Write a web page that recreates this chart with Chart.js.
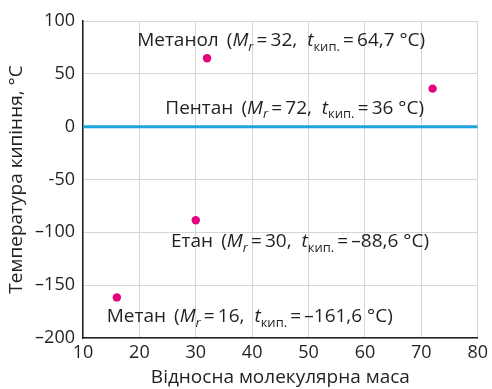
<!DOCTYPE html>
<html>
<head>
<meta charset="utf-8">
<script src="https://cdn.jsdelivr.net/npm/chart.js@4/dist/chart.umd.min.js"></script>
<style>
  html, body { margin: 0; padding: 0; background: #fff; }
  #wrap { width: 492px; height: 389px; }
</style>
</head>
<body>
<div id="wrap"><canvas id="c" width="492" height="389"></canvas></div>
<script>
// Substances: relative molecular mass and boiling point
const substances = ['Метанол', 'Пентан', 'Етан', 'Метан'];
const molarMass = [32, 72, 30, 16];
const boilingPoint = [64.7, 36, -88.6, -161.6];

// Where each caption is anchored (data units: left edge, vertical centre)
const captionX = [19.6, 24.6, 25.6, 14.2];
const captionY = [81, 17.5, -109, -180];

const yTickLabels = { 100: '100', 50: '50', 0: '0', '-50': '-50', '-100': '–100', '-150': '–150', '-200': '–200' };

const FONT = '"Open Sans", "Noto Sans", sans-serif';
const TEXT = '#231f20';
const pink = '#e5007e';
const blue = '#1ea4dc';

function fmt(v) {
  return String(v).replace('.', ',').replace('-', '–');
}

// Draws the captions with italic symbols and subscripts
const captionPlugin = {
  id: 'captions',
  afterDatasetsDraw(chart) {
    const ctx = chart.ctx;
    const xs = chart.scales.x, ys = chart.scales.y;
    const big = 19, small = 13;
    substances.forEach((name, i) => {
      const parts = [
        { t: name + ' \u2009(', s: 'n' },
        { t: 'M', s: 'i' },
        { t: 'r', s: 'is' },
        { t: '\u2009=\u2009' + molarMass[i] + ',  ', s: 'n' },
        { t: 't', s: 'i' },
        { t: 'кип.', s: 'sub' },
        { t: '\u2009=\u2009' + fmt(boilingPoint[i]) + ' \u00b0C)', s: 'n' }
      ];
      let x = xs.getPixelForValue(captionX[i]);
      const y = ys.getPixelForValue(captionY[i]);
      ctx.save();
      ctx.fillStyle = TEXT;
      ctx.textBaseline = 'middle';
      ctx.textAlign = 'left';
      parts.forEach(p => {
        let font, dy = 0;
        if (p.s === 'n') font = big + 'px ' + FONT;
        else if (p.s === 'i') font = 'italic ' + big + 'px ' + FONT;
        else if (p.s === 'is') { font = 'italic ' + small + 'px ' + FONT; dy = 6; }
        else { font = small + 'px ' + FONT; dy = 6; }
        ctx.font = font;
        ctx.fillText(p.t, x, y + dy);
        x += ctx.measureText(p.t).width;
      });
      ctx.restore();
    });
  }
};

new Chart(document.getElementById('c'), {
  type: 'scatter',
  data: {
    datasets: [
      {
        type: 'line',
        data: [{ x: 10, y: 0 }, { x: 80, y: 0 }],
        borderColor: blue,
        borderWidth: 3,
        pointRadius: 0,
        order: 2
      },
      {
        data: molarMass.map((m, i) => ({ x: m, y: boilingPoint[i] })),
        backgroundColor: pink,
        borderColor: pink,
        pointRadius: 4.2,
        borderWidth: 0,
        order: 1
      }
    ]
  },
  options: {
    responsive: false,
    animation: false,
    layout: { padding: { left: 0, top: 21, right: 12, bottom: 0 } },
    plugins: { legend: { display: false }, tooltip: { enabled: false } },
    scales: {
      x: {
        type: 'linear',
        min: 10, max: 80,
        ticks: { stepSize: 10, color: TEXT, font: { family: FONT, size: 18 }, padding: 4 },
        grid: { color: '#d6d6d6', lineWidth: 1, drawTicks: false },
        border: { color: TEXT, width: 1.5 },
        title: { display: true, text: 'Відносна молекулярна маса', color: TEXT, font: { family: FONT, size: 19 }, padding: { top: 0, bottom: 0 } },
        afterFit(s) { s.height = 51; }
      },
      y: {
        type: 'linear',
        min: -200, max: 100,
        ticks: { stepSize: 50, color: TEXT, font: { family: FONT, size: 18 }, padding: 8,
          callback: v => yTickLabels[v] },
        grid: { color: '#d6d6d6', lineWidth: 1, drawTicks: false },
        border: { color: TEXT, width: 1.5 },
        title: { display: true, text: 'Температура кипіння, °С', color: TEXT, font: { family: FONT, size: 19 }, padding: { top: 5, bottom: 0 } },
        afterFit(s) { s.width = 83; }
      }
    }
  },
  plugins: [captionPlugin]
});
</script>
</body>
</html>
